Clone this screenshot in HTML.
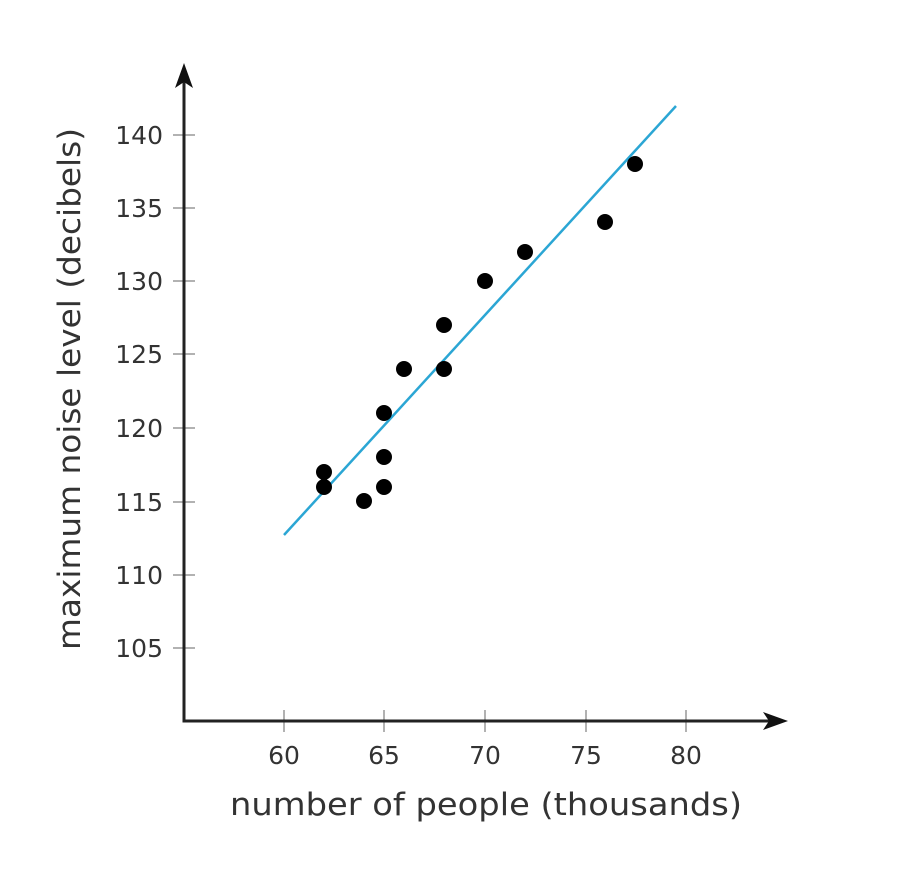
<!DOCTYPE html>
<html><head><meta charset="utf-8"><style>html,body{margin:0;padding:0;background:#fff}svg{display:block}</style></head><body>
<svg width="904" height="870" viewBox="0 0 904 870" xmlns="http://www.w3.org/2000/svg" font-family="'DejaVu Sans','Liberation Sans',sans-serif" fill="#333">
<g stroke="#999" stroke-width="1.5">
<line x1="284" y1="710" x2="284" y2="732"/><line x1="384" y1="710" x2="384" y2="732"/><line x1="485" y1="710" x2="485" y2="732"/><line x1="586" y1="710" x2="586" y2="732"/><line x1="686" y1="710" x2="686" y2="732"/>
<line x1="173" y1="135" x2="195" y2="135"/><line x1="173" y1="208" x2="195" y2="208"/><line x1="173" y1="281" x2="195" y2="281"/><line x1="173" y1="354" x2="195" y2="354"/><line x1="173" y1="428" x2="195" y2="428"/><line x1="173" y1="502" x2="195" y2="502"/><line x1="173" y1="575" x2="195" y2="575"/><line x1="173" y1="648" x2="195" y2="648"/>
</g>
<g stroke="#222" stroke-width="3" fill="none">
<polyline points="184,72 184,721 778,721"/>
</g>
<path d="M184,63 L175,88 L184,82 L193,88 Z" fill="#111"/>
<path d="M788,721 L763,712 L769,721 L763,730 Z" fill="#111"/>
<g font-size="25" text-anchor="middle">
<text x="284" y="764">60</text><text x="384" y="764">65</text><text x="485" y="764">70</text><text x="586" y="764">75</text><text x="686" y="764">80</text>
</g>
<g font-size="25" text-anchor="end">
<text x="163" y="144">140</text><text x="163" y="217">135</text><text x="163" y="290">130</text><text x="163" y="363">125</text><text x="163" y="437">120</text><text x="163" y="511">115</text><text x="163" y="584">110</text><text x="163" y="657">105</text>
</g>
<text x="230" y="815" font-size="31" textLength="512" lengthAdjust="spacingAndGlyphs">number of people (thousands)</text>
<text transform="translate(80,650) rotate(-90)" font-size="31" textLength="522" lengthAdjust="spacingAndGlyphs">maximum noise level (decibels)</text>
<line x1="284" y1="535" x2="676" y2="106" stroke="#2ba6d4" stroke-width="2.5"/>
<g fill="#000">
<circle cx="324" cy="472" r="8"/><circle cx="324" cy="487" r="8"/><circle cx="364" cy="501" r="8"/><circle cx="384" cy="487" r="8"/><circle cx="384" cy="457" r="8"/><circle cx="384" cy="413" r="8"/><circle cx="404" cy="369" r="8"/><circle cx="444" cy="325" r="8"/><circle cx="444" cy="369" r="8"/><circle cx="485" cy="281" r="8"/><circle cx="525" cy="252" r="8"/><circle cx="605" cy="222" r="8"/><circle cx="635" cy="164" r="8"/>
</g>
</svg>
</body></html>
